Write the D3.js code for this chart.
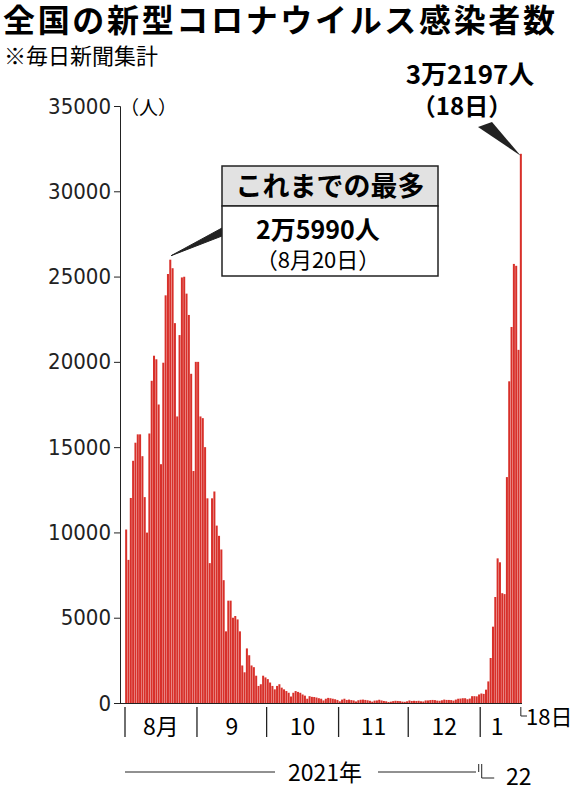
<!DOCTYPE html>
<html><head><meta charset="utf-8">
<script src="https://cdn.jsdelivr.net/npm/d3@7"></script>
<style>body{margin:0;background:#fff}text{font-family:"Noto Sans CJK JP","Noto Sans",sans-serif}</style>
</head><body><svg id="c" width="583" height="800"></svg>
<script>
// daily counts, Aug 1 2021 - Jan 18 2022
var aug = [10170,8390,12020,14200,15260,15750,15750,14470,12070,9990,15800,18890,20360,20150,17500,14000,19950,23900,25150,25990,25490,22270,16800,21570,24950,24990,24000,22750,19300,13600,20000];
var sep = [20000,16800,16700,15000,12000,8200,12000,12400,10400,9800,9000,7200,4200,6000,6000,5000,5100,4900,4200,2200,1800,3200,2800,2200,2100,1600,1000,1100,1600,1500];
var oct = [1400,1200,1000,800,1000,1100,900,800,700,600,380,600,700,650,600,500,430,250,400,360,350,320,280,250,150,250,300,280,250,220,180];
var nov = [100,200,250,180,200,170,150,90,160,190,200,180,160,130,80,140,150,190,150,120,100,60,80,110,130,120,110,80,70,100];
var dec = [150,120,130,120,130,100,90,150,150,170,180,170,140,130,160,200,180,180,170,140,200,250,260,280,280,220,260,400,400,390,500];
var jan = [557,534,782,1265,2638,4475,6214,8480,8249,6438,6384,13244,18860,22045,25742,25631,20703,32197];
var counts = [].concat(aug, sep, oct, nov, dec, jan);
var monthLabels = ['8月','9','10','11','12','1'];
var monthLens = [31,30,31,30,31,18];
var yTicks = [0,5000,10000,15000,20000,25000,30000,35000];

var svg = d3.select('#c'),
    red = '#d8302a';

var x = d3.scaleLinear().domain([0, counts.length]).range([125, 522]);
var y = d3.scaleLinear().domain([0, 35000]).range([703, 106]);

// titles
svg.append('text').attr('x',3).attr('y',32).attr('font-size',32).attr('font-weight','bold').attr('textLength',552).text('全国の新型コロナウイルス感染者数');
svg.append('text').attr('x',4).attr('y',64).attr('font-size',22).text('※毎日新聞集計');

// y axis
var yAxis = d3.axisLeft(y).tickValues(yTicks).tickSize(6).tickFormat(d3.format('d'));
var ya = svg.append('g').attr('transform','translate(120,0)').call(yAxis);
ya.select('.domain').attr('stroke','#222');
ya.selectAll('.tick line').attr('stroke','#222');
ya.selectAll('.tick text').attr('font-size',22).attr('fill','#222').attr('x',-9)
  .style('font-family','"Liberation Sans Narrow","DejaVu Sans Condensed",sans-serif');
svg.append('text').attr('x',120).attr('y',115).attr('font-size',19).text('（人）');

// bars
svg.append('g').selectAll('rect').data(counts).enter().append('rect')
  .attr('x', function(d,i){ return x(i)+0.15; })
  .attr('width', x(1)-x(0)-0.3)
  .attr('y', function(d){ return y(d); })
  .attr('height', function(d){ return y(0)-y(d); })
  .attr('fill', red);

// x axis
svg.append('line').attr('x1',120).attr('x2',522).attr('y1',703.5).attr('y2',703.5).attr('stroke','#222');
var starts = [0];
monthLens.forEach(function(l,i){ starts.push(starts[i]+l); });
var g = svg.append('g');
starts.slice(0,6).forEach(function(s,i){
  g.append('line').attr('x1',x(s)).attr('x2',x(s)).attr('y1',707).attr('y2',737).attr('stroke','#222').attr('stroke-width',1.3);
  g.append('text').attr('x',(x(s)+x(starts[i+1]))/2 - (i==5?4:0)).attr('y',735).attr('text-anchor','middle')
    .attr('font-size',23).text(monthLabels[i]);
});
// 18日 bracket
g.append('path').attr('d','M'+x(counts.length-0.5)+',707V716H'+(x(counts.length)+5)).attr('fill','none').attr('stroke','#222');
g.append('text').attr('x',526).attr('y',725).attr('font-size',22).text('18日');
// year row
g.append('line').attr('x1',125).attr('x2',275).attr('y1',772).attr('y2',772).attr('stroke','#222');
g.append('text').attr('x',325).attr('y',781).attr('text-anchor','middle').attr('font-size',23).text('2021年');
g.append('line').attr('x1',378).attr('x2',476).attr('y1',772).attr('y2',772).attr('stroke','#222');
g.append('path').attr('d','M'+(x(starts[5])-1.5)+',764V772M'+(x(starts[5])+1.5)+',764V778H'+(x(starts[5])+14)).attr('fill','none').attr('stroke','#222');
g.append('text').attr('x',506).attr('y',785).attr('font-size',23).text('22');

// peak annotation (Aug 20)
var pk = 19;
svg.append('path').attr('d','M'+(x(pk)+2)+','+(y(counts[pk])-4)+'L222,228L222,236Z').attr('fill','#222').attr('stroke','#222');
svg.append('rect').attr('x',222).attr('y',166).attr('width',216).attr('height',40).attr('fill','#e2e2e2').attr('stroke','#222').attr('stroke-width',1.5);
svg.append('rect').attr('x',222).attr('y',206).attr('width',216).attr('height',70).attr('fill','#fff').attr('stroke','#222').attr('stroke-width',1.5);
svg.append('text').attr('x',330).attr('y',196).attr('text-anchor','middle').attr('font-size',27).attr('font-weight','bold').text('これまでの最多');
svg.append('text').attr('x',318).attr('y',239).attr('text-anchor','middle').attr('font-size',25).attr('font-weight','bold').text('2万5990人');
svg.append('text').attr('x',318).attr('y',268).attr('text-anchor','middle').attr('font-size',22).text('（8月20日）');

// latest annotation (Jan 18)
var last = counts.length-1;
svg.append('path').attr('d','M'+(x(last)+1)+','+(y(counts[last])+2)+'L478,127L492,122Z').attr('fill','#222');
svg.append('text').attr('x',470).attr('y',84).attr('text-anchor','middle').attr('font-size',26).attr('font-weight','bold').text('3万2197人');
svg.append('text').attr('x',462).attr('y',115).attr('text-anchor','middle').attr('font-size',24).attr('font-weight','bold').text('（18日）');
</script></body></html>
